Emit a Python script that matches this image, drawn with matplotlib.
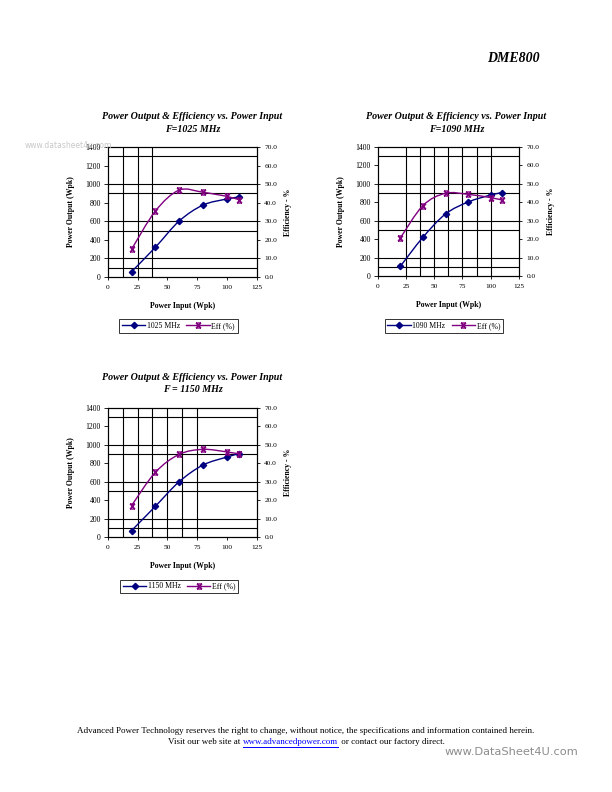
import numpy as np
import matplotlib
matplotlib.use("Agg")
import matplotlib.pyplot as plt
from matplotlib.path import Path
from matplotlib.patches import PathPatch
from matplotlib.lines import Line2D

plt.rcParams['font.family'] = ['Liberation Serif', 'DejaVu Serif']

# data
p_in = [20, 40, 60, 80, 100, 110]

freqs = ['1025', '1090', '1150']
pout_1025 = [57, 320, 603, 775, 840, 861]
eff_1025 = [14.9, 35.5, 46.8, 45.6, 43.4, 41.6]
pout_1090 = [105, 420, 673, 803, 879, 904]
eff_1090 = [20.6, 38.2, 44.9, 44.3, 42.5, 41.2]
pout_1150 = [72, 335, 601, 781, 867, 903]
eff_1150 = [17.1, 35.1, 44.8, 47.5, 46.1, 45.0]

title_1 = 'Power Output & Efficiency vs. Power Input'
subtitles = ['F=1025 MHz', 'F=1090 MHz', 'F = 1150 MHz']

x_ticks = [0, 25, 50, 75, 100, 125]
y_ticks = [0, 200, 400, 600, 800, 1000, 1200, 1400]
eff_ticks = [0, 10, 20, 30, 40, 50, 60, 70]

# odd grid lines as printed in the sheet
h_grid = [100, 200, 500, 600, 900, 1000, 1300]
v_grid = [[12.5, 25, 37.5],
          [25, 37.5, 50, 62.5, 75, 87.5, 100],
          [12.5, 25, 37.5, 50, 62.5, 75]]

W, H = 612, 792
fig = plt.figure(figsize=(6.12, 7.92), dpi=100)


def fx(x):
    return x / W


def fy(y):
    return 1 - y / H


def smooth(x, y):
    # excel style smoothed line (bezier through every point)
    n = len(x)
    verts = [(x[0], y[0])]
    codes = [Path.MOVETO]
    for i in range(n - 1):
        a, b = max(i - 1, 0), min(i + 2, n - 1)
        c1 = (x[i] + (x[i + 1] - x[a]) / 6, y[i] + (y[i + 1] - y[a]) / 6)
        c2 = (x[i + 1] - (x[b] - x[i]) / 6, y[i + 1] - (y[b] - y[i]) / 6)
        verts += [c1, c2, (x[i + 1], y[i + 1])]
        codes += [Path.CURVE4] * 3
    return Path(verts, codes)


# x-star marker (X with bars top and bottom)
xstar = Path([(-1, -1), (1, 1), (-1, 1), (1, -1), (-1, 1), (1, 1), (-1, -1), (1, -1)],
             [Path.MOVETO, Path.LINETO] * 4)

navy = '#000080'
purple = '#800080'
fs = 5.6
fs_small = 5.3

# axes boxes in pixels: left, right, top, bottom
boxes = [(107.7, 256.7, 147, 277), (377.7, 519, 147, 276), (107.7, 256.7, 407.7, 537.3)]
titles_xy = [(192.5, 116.5), (456.5, 116.5), (192.5, 377.5)]
legend_xy = [(178.5, 325.8), (443.7, 325.8), (179.2, 586.3)]
ylab_x = [(-0.219, 1.18), (-0.228, 1.196), (-0.219, 1.18)]

pouts = [pout_1025, pout_1090, pout_1150]
effs = [eff_1025, eff_1090, eff_1150]

for k in range(3):
    l, r, t, b = boxes[k]
    ax = fig.add_axes([fx(l), fy(b), (r - l) / W, (b - t) / H])
    ax2 = ax.twinx()
    ax.set_xlim(0, 125)
    ax.set_ylim(0, 1400)
    ax2.set_ylim(0, 70)
    ax.set_xticks(x_ticks)
    ax.set_yticks(y_ticks)
    ax2.set_yticks(eff_ticks)
    ax2.set_yticklabels(['%.1f' % v for v in eff_ticks])
    ax.tick_params(axis='y', labelsize=fs, length=3, width=0.6, pad=2)
    ax.tick_params(axis='x', labelsize=fs_small, length=2.5, width=0.6, pad=3)
    ax2.tick_params(axis='y', labelsize=fs_small, length=2.5, width=0.6, pad=3)
    for a in (ax, ax2):
        for s in a.spines.values():
            s.set_linewidth(0.8)
    for v in h_grid:
        ax.axhline(v, color='black', lw=0.8, zorder=1)
    for v in v_grid[k]:
        ax.axvline(v, color='black', lw=0.8, zorder=1)

    pw, ef = pouts[k], effs[k]
    ax.add_patch(PathPatch(smooth(p_in, pw), fill=False, edgecolor=navy, lw=1.0, zorder=3))
    ax.plot(p_in, pw, ls='none', marker='D', ms=3.2, color=navy, zorder=4)
    ax2.add_patch(PathPatch(smooth(p_in, ef), fill=False, edgecolor=purple, lw=1.0, zorder=3))
    ax2.plot(p_in, ef, ls='none', marker=xstar, ms=3.6, mew=1.0, color=purple, zorder=4)

    ax.set_xlabel('Power Input (Wpk)', fontsize=fs, fontweight='bold')
    ax.xaxis.set_label_coords(0.5, -0.19)
    ax.set_ylabel('Power Output (Wpk)', fontsize=fs, fontweight='bold')
    ax.yaxis.set_label_coords(ylab_x[k][0], 0.5)
    ax2.set_ylabel('Efficiency - %', fontsize=fs, fontweight='bold')
    ax2.yaxis.set_label_coords(ylab_x[k][1], 0.5)

    tx, ty = titles_xy[k]
    fig.text(fx(tx), fy(ty), title_1, ha='center', va='center', fontsize=7.2,
             fontweight='bold', style='italic')
    fig.text(fx(tx), fy(ty + 12.5), subtitles[k], ha='center', va='center', fontsize=7.2,
             fontweight='bold', style='italic')

    handles = [Line2D([], [], color=navy, lw=1.0, marker='D', ms=3.2),
               Line2D([], [], color=purple, lw=1.0, marker=xstar, ms=3.6, mew=1.0)]
    lx, ly = legend_xy[k]
    leg = fig.legend(handles, [freqs[k] + ' MHz', 'Eff (%)'], loc='center',
                     bbox_to_anchor=(fx(lx), fy(ly)), ncol=2, fontsize=fs,
                     frameon=True, fancybox=False, edgecolor='black', handlelength=3,
                     handletextpad=0.2, columnspacing=0.8, borderpad=0.35,
                     borderaxespad=0)
    leg.get_frame().set_linewidth(0.7)

# page decorations
fig.text(fx(540), fy(58), 'DME800', ha='right', va='center', fontsize=10,
         fontweight='bold', style='italic')
fig.text(fx(68), fy(145), 'www.datasheet4u.com', ha='center', va='center',
         fontsize=5.5, color='#c8c8c8', family=['DejaVu Sans'])
fig.text(fx(306), fy(731), 'Advanced Power Technology reserves the right to change, '
         'without notice, the specifications and information contained herein.',
         ha='center', va='center', fontsize=6.45)
fig.text(fx(168), fy(741.5), 'Visit our web site at ', ha='left', va='center', fontsize=6.45)
fig.text(fx(243), fy(741.5), 'www.advancedpower.com', ha='left', va='center',
         fontsize=6.45, color='blue')
fig.add_artist(Line2D([fx(243), fx(338)], [fy(746.5), fy(746.5)], color='blue', lw=0.7))
fig.text(fx(339), fy(741.5), ' or contact our factory direct.', ha='left', va='center',
         fontsize=6.45)
fig.text(fx(578), fy(752), 'www.DataSheet4U.com', ha='right', va='center',
         fontsize=8.2, color='#8c8c8c', family=['DejaVu Sans'])

fig.savefig('out.png', dpi=100)
